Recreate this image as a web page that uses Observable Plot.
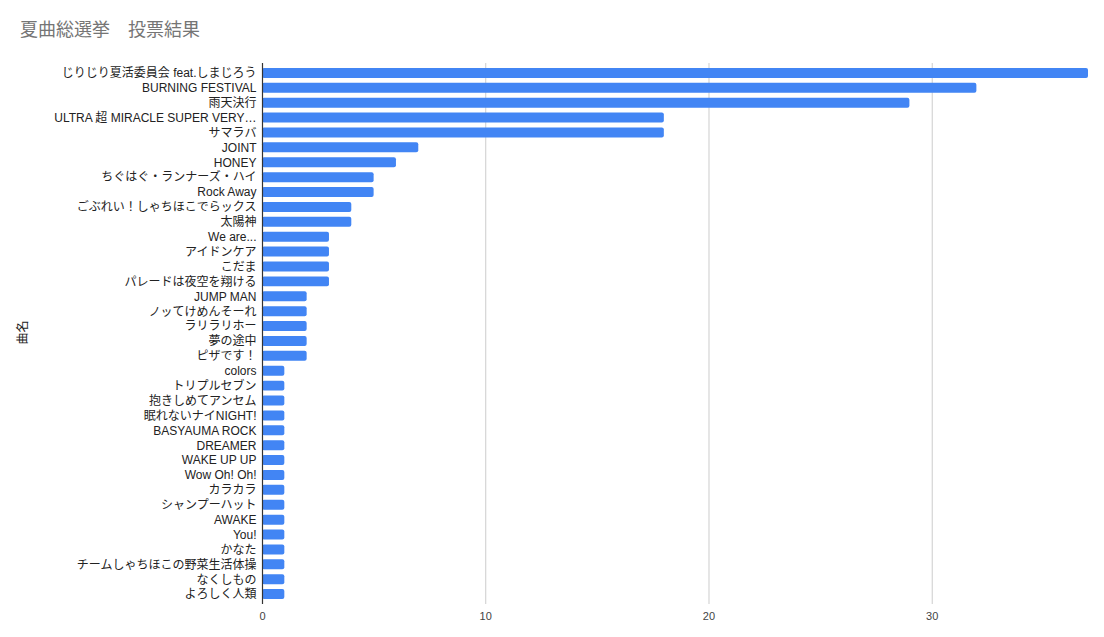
<!DOCTYPE html>
<html><head><meta charset="utf-8">
<script src="https://cdn.jsdelivr.net/npm/d3@7"></script>
<script src="https://cdn.jsdelivr.net/npm/@observablehq/plot@0.6"></script>
<style>
body{margin:0;background:#fff;font-family:Arial,"Liberation Sans","Noto Sans CJK JP",sans-serif;}
#wrap{position:relative;width:1104px;height:637px;}
#title{position:absolute;left:20px;top:15px;font-size:18px;color:#757575;font-family:Arial,"Liberation Sans","Noto Sans CJK JP",sans-serif;}
</style></head><body>
<div id="wrap"><div id="title">夏曲総選挙　投票結果</div><div id="chart"></div></div>
<script>
const songs = ["じりじり夏活委員会 feat.しまじろう","BURNING FESTIVAL","雨天決行","ULTRA 超 MIRACLE SUPER VERY…","サマラバ","JOINT","HONEY","ちぐはぐ・ランナーズ・ハイ","Rock Away","ごぶれい！しゃちほこでらックス","太陽神","We are...","アイドンケア","こだま","パレードは夜空を翔ける","JUMP MAN","ノッてけめんそーれ","ラリラリホー","夢の途中","ピザです！","colors","トリプルセブン","抱きしめてアンセム","眠れないナイNIGHT!","BASYAUMA ROCK","DREAMER","WAKE UP UP","Wow Oh! Oh!","カラカラ","シャンプーハット","AWAKE","You!","かなた","チームしゃちほこの野菜生活体操","なくしもの","よろしく人類"];
const votes = [37,32,29,18,18,7,6,5,5,4,4,3,3,3,3,2,2,2,2,2,1,1,1,1,1,1,1,1,1,1,1,1,1,1,1,1];
const xTicks = [0,10,20,30];
const yTitle = ["曲名"];
const data = songs.map((s,i)=>({song:s, votes:votes[i]}));
const chart = Plot.plot({
  width:1104, height:637,
  marginTop:63, marginBottom:33, marginLeft:262, marginRight:16,
  style:{fontFamily:'Arial,"Liberation Sans","Noto Sans CJK JP",sans-serif', fontSize:"12px", color:"#222"},
  x:{domain:[0,37], ticks:xTicks},
  y:{domain:songs, padding:0.33},
  marks:[
    Plot.gridX(xTicks.slice(1), {stroke:"#cccccc", strokeOpacity:1}),
    Plot.barX(data, {x:"votes", y:"song", fill:"#4285f4", rx:2}),
    Plot.axisX(xTicks, {tickSize:0, tickPadding:8, fontSize:11, fill:"#444", label:null}),
    Plot.axisY({tickSize:0, tickPadding:6, fontSize:12, fill:"#222", label:null}),
    Plot.text(yTitle, {text:d=>d, y:()=>songs[18], frameAnchor:"left", dx:-239, dy:3, rotate:-90, fontSize:12, fill:"#222"}),
    Plot.ruleX([0], {stroke:"#333", strokeWidth:1.2})
  ]
});
document.getElementById("chart").appendChild(chart);
</script></body></html>
